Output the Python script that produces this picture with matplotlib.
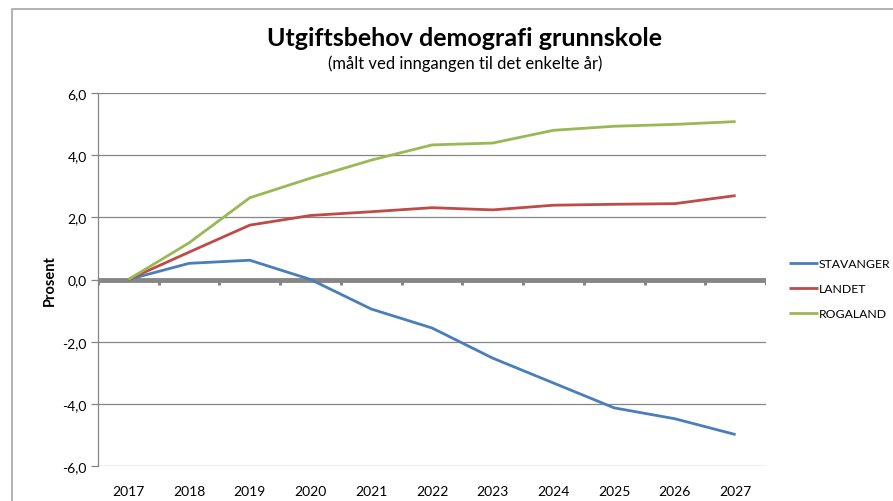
import matplotlib.pyplot as plt
import matplotlib.patches as patches
from matplotlib.ticker import FuncFormatter
import numpy as np

plt.rcParams['font.family'] = ['Lato', 'DejaVu Sans']

# Data
years = ['2017', '2018', '2019', '2020', '2021', '2022',
         '2023', '2024', '2025', '2026', '2027']
stavanger = [0.0, 0.52, 0.62, 0.0, -0.95, -1.56, -2.53, -3.33, -4.13, -4.48, -4.99]
landet = [0.0, 0.88, 1.75, 2.06, 2.18, 2.31, 2.24, 2.39, 2.42, 2.44, 2.70]
rogaland = [0.0, 1.18, 2.63, 3.26, 3.84, 4.33, 4.39, 4.80, 4.93, 4.99, 5.08]
series_names = ['STAVANGER', 'LANDET', 'ROGALAND']
y_ticks = [-6, -4, -2, 0, 2, 4, 6]

colors = ['#4a7ebb', '#be4b48', '#98b954']
grey = '#868686'

fig = plt.figure(figsize=(8.93, 5.02), dpi=100)
ax = fig.add_axes([98 / 893, 35 / 502, 668 / 893, 373 / 502])

# Outer chart frame (runs off the right and bottom edges)
fig.patches.append(patches.Rectangle((12 / 893, -0.1), 1.2, 1.1 - 10 / 502,
                                     transform=fig.transFigure, fill=False,
                                     edgecolor='#a6a6a6', lw=1.2))

x = np.arange(len(years))
for vals, name, c in zip([stavanger, landet, rogaland], series_names, colors):
    ax.plot(x, vals, color=c, lw=2.0, label=name, solid_capstyle='butt', zorder=3)

ax.set_xlim(-0.5, len(years) - 0.5)
ax.set_ylim(-6, 6)
ax.set_yticks(y_ticks)
ax.yaxis.set_major_formatter(FuncFormatter(lambda v, p: f"{v:.1f}".replace('.', ',')))
ax.grid(axis='y', color=grey, lw=0.9, zorder=1)
ax.set_axisbelow(True)

# Zero axis: thick grey line with small category tick marks below
bounds = np.arange(-0.5, len(years), 1.0)
ax.plot([bounds[0], bounds[-1]], [0, 0], color=grey, lw=3.5, zorder=2,
        solid_capstyle='butt')
ax.vlines(bounds, -0.17, 0, color=grey, lw=2.2, zorder=2)
ax.set_xlim(-0.5, len(years) - 0.5)

ax.set_xticks(x)
ax.set_xticklabels(years)
ax.tick_params(axis='x', length=0, pad=14, labelsize=10)
ax.tick_params(axis='y', length=5, color=grey, width=0.9, labelsize=10, pad=3)

for s in ['top', 'right', 'bottom']:
    ax.spines[s].set_visible(False)
ax.spines['left'].set_color(grey)
ax.spines['left'].set_linewidth(0.9)

ax.set_ylabel('Prosent', fontsize=10.5, fontweight='bold', labelpad=4)

fig.text(465 / 893, 1 - 38 / 502, 'Utgiftsbehov demografi grunnskole',
         ha='center', va='center', fontsize=18, fontweight='bold')
fig.text(465 / 893, 1 - 64 / 502, '(målt ved inngangen til det enkelte år)',
         ha='center', va='center', fontsize=12)

fig.legend(loc='upper left', bbox_to_anchor=(789 / 893, 1 - 259 / 502),
           frameon=False, fontsize=8.8, handlelength=2.4, handletextpad=0.05,
           labelspacing=1.15, borderaxespad=0, borderpad=0)

fig.savefig('out.png', dpi=100)
